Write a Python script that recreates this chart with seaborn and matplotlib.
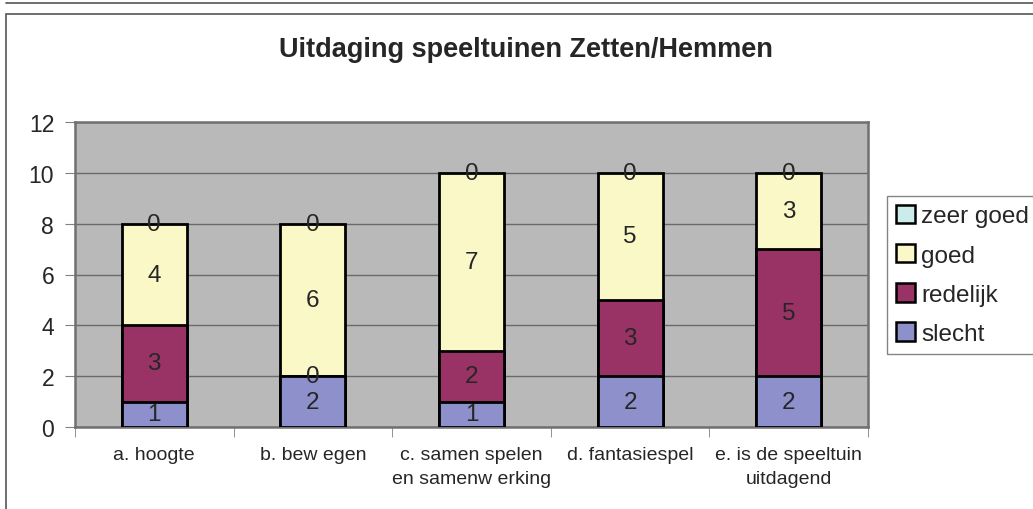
import numpy as np
import pandas as pd
import matplotlib
matplotlib.use("Agg")
import matplotlib.pyplot as plt
import seaborn as sns
from matplotlib.patches import Patch, Rectangle
from matplotlib.lines import Line2D

categories = ["a. hoogte", "b. bew egen", "c. samen spelen\nen samenw erking",
              "d. fantasiespel", "e. is de speeltuin\nuitdagend"]
slecht = [1, 2, 1, 2, 2]
redelijk = [3, 0, 2, 3, 5]
goed = [4, 6, 7, 5, 3]
zeer_goed = [0, 0, 0, 0, 0]

series = ["slecht", "redelijk", "goed", "zeer goed"]
colors = {"slecht": "#8e90cc", "redelijk": "#993366", "goed": "#fbf8c8", "zeer goed": "#ccecec"}

df = pd.DataFrame({"cat": categories, "slecht": slecht, "redelijk": redelijk,
                   "goed": goed, "zeer goed": zeer_goed})
cum = df[series].cumsum(axis=1)

sns.set_style("white")
plt.rcParams["font.family"] = ["Liberation Sans", "DejaVu Sans"]

fig = plt.figure(figsize=(10.33, 5.1), dpi=100)
ax = fig.add_axes([75 / 1033, 1 - 428 / 510, (868 - 75) / 1033, (428 - 123) / 510])
ax.set_facecolor("#b9b9b9")

# draw tallest stack first, smaller ones on top
for s in reversed(series):
    if s == "zeer goed" and df[s].sum() == 0:
        continue
    sns.barplot(x=df["cat"], y=cum[s], color=colors[s], width=0.41, edgecolor="black",
                linewidth=2, saturation=1, ax=ax, zorder=3)

# segment labels (zero values sit on the segment's base)
bottoms = cum[series].values - df[series].values
for i in range(len(categories)):
    for j, s in enumerate(series):
        v = df[s].iloc[i]
        y = bottoms[i, j] + v / 2 if v > 0 else bottoms[i, j]
        ax.text(i, y, str(v), ha="center", va="center", fontsize=17.5, zorder=5)

ax.set_ylim(0, 12)
ax.set_xlim(-0.5, 4.5)
ax.set_yticks(range(0, 13, 2))
ax.yaxis.grid(True, color="#6a6a6a", linewidth=1, zorder=0)
ax.set_axisbelow(True)
ax.set_xlabel("")
ax.set_ylabel("")
ax.tick_params(axis="y", labelsize=16.5, length=7, color="#808080", direction="out", pad=8, left=True)
ax.set_xticks(range(5))
ax.set_xticklabels(categories, fontsize=14, linespacing=1.5)
ax.set_xticks(np.arange(-0.5, 5, 1), minor=True)
ax.tick_params(axis="x", which="major", length=0, pad=14)
ax.tick_params(axis="x", which="minor", length=7, color="#808080", direction="out", bottom=True)
for sp in ["top", "right", "left", "bottom"]:
    ax.spines[sp].set_color("#707070")
    ax.spines[sp].set_linewidth(1.8)

fig.text(526 / 1033, 1 - 50 / 510, "Uitdaging speeltuinen Zetten/Hemmen",
         ha="center", va="center", fontsize=19.5, fontweight="bold")

handles = [Patch(facecolor=colors[s], edgecolor="black", linewidth=1.8) for s in reversed(series)]
leg = fig.legend(handles, list(reversed(series)), loc="upper left",
                 bbox_to_anchor=(887 / 1033, 1 - 197 / 510), fontsize=17.5, frameon=True,
                 fancybox=False, edgecolor="#666666", handlelength=0.8, handleheight=0.8,
                 handletextpad=0.25, labelspacing=0.68, borderpad=0.35, borderaxespad=0)
leg.get_frame().set_linewidth(1)

# chart border lines
fig.add_artist(Line2D([6 / 1033, 1], [1 - 4 / 510, 1 - 4 / 510], color="#555555", linewidth=1.2))
fig.add_artist(Rectangle((6 / 1033, -0.05), 1.1, 1 - 15 / 510 + 0.05, fill=False,
                         edgecolor="#555555", linewidth=1.2))

fig.savefig("out.png", dpi=100)
